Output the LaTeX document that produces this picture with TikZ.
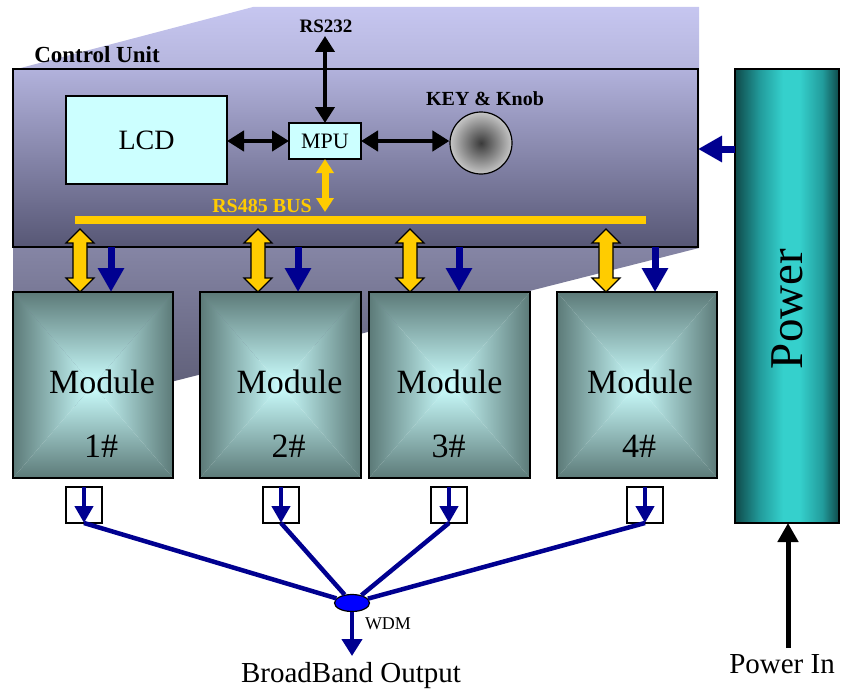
\documentclass[tikz,border=0pt]{standalone}
\usepackage{fontspec}
\setmainfont{Liberation Serif}
\usetikzlibrary{arrows.meta,shapes.geometric,calc}

\definecolor{navy}{HTML}{000090}
\definecolor{busyellow}{HTML}{FFCC00}
\definecolor{lcdcyan}{HTML}{CCFFFF}
\definecolor{panelTop}{HTML}{C6C6F0}
\definecolor{panelBot}{HTML}{56566E}
\definecolor{cuTop}{HTML}{B2B2DC}
\definecolor{cuBot}{HTML}{575775}
\definecolor{modDark}{HTML}{5C7A78}
\definecolor{modLight}{HTML}{CCFFFF}
\definecolor{pwDark}{HTML}{0F4A4A}
\definecolor{pwMid}{HTML}{229C9C}
\definecolor{pwLight}{HTML}{35D0CC}
\definecolor{knobDark}{HTML}{3A3A3A}
\definecolor{knobLight}{HTML}{C6C6C6}

% cylinder-like horizontal shading for the power supply
\pgfdeclarehorizontalshading{cylinder}{100bp}{color(0bp)=(pwDark); color(25bp)=(pwDark); color(37bp)=(pwMid); color(48bp)=(pwLight); color(56bp)=(pwLight); color(67bp)=(pwMid); color(75bp)=(pwDark); color(100bp)=(pwDark)}

\newcommand\setfs[1]{\fontsize{#1}{#1}\selectfont}

% four-sided "pyramid" fill of a module face: x1 y1 x2 y2
\newcommand\pyramidfill[4]{%
  \pgfmathsetmacro\pcx{(#1+#3)/2}\pgfmathsetmacro\pcy{(#2+#4)/2}%
  \begin{scope}\clip (#1,#2) -- (#3,#2) -- (\pcx,\pcy) -- cycle;
    \shade[top color=modDark, bottom color=modLight] (#1,#2) rectangle (#3,\pcy);\end{scope}
  \begin{scope}\clip (#1,#4) -- (#3,#4) -- (\pcx,\pcy) -- cycle;
    \shade[top color=modLight, bottom color=modDark] (#1,\pcy) rectangle (#3,#4);\end{scope}
  \begin{scope}\clip (#1,#2) -- (#1,#4) -- (\pcx,\pcy) -- cycle;
    \shade[left color=modDark, right color=modLight] (#1,#2) rectangle (\pcx,#4);\end{scope}
  \begin{scope}\clip (#3,#2) -- (#3,#4) -- (\pcx,\pcy) -- cycle;
    \shade[left color=modLight, right color=modDark] (\pcx,#2) rectangle (#3,#4);\end{scope}
}

% outlined yellow double block arrow between two vertically aligned points
\newcommand\busarrow[2]{%
  \draw[ybar] (#1) -- ++(14,14) -- ++(-7,0) -- ($(#2)+(7,-14)$) -- ++(7,0) -- (#2)
    -- ++(-14,-14) -- ++(7,0) -- ($(#1)+(-7,14)$) -- ++(-7,0) -- cycle;}

\tikzset{
  bx/.style={draw=black, line width=1.3pt, inner sep=0pt, outer sep=0pt},
  lbl/.style={inner sep=0pt, outer sep=0pt, anchor=base},
  boldlbl/.style={lbl, font=\bfseries\setfs{#1}},
  ybar/.style={fill=busyellow, draw=black, line width=1.2pt, line join=miter},
  blkarr/.style={line width=4.5pt, draw=black,
    {Triangle[width=20pt,length=17pt]}-{Triangle[width=20pt,length=17pt]}},
  rsarr/.style={line width=4.5pt, draw=black,
    {Triangle[width=19pt,length=16pt]}-{Triangle[width=19pt,length=16pt]}},
  yelarr/.style={line width=7pt, draw=busyellow,
    {Triangle[width=17pt,length=14pt]}-{Triangle[width=17pt,length=14pt]}},
  navarr/.style={line width=7pt, draw=navy, -{Triangle[width=25pt,length=24pt]}},
  navsmall/.style={line width=4.5pt, draw=navy, -{Triangle[width=18pt,length=17pt]}},
  navline/.style={line width=4.5pt, draw=navy},
  navmid/.style={line width=4.5pt, draw=navy, -{Triangle[width=20pt,length=17pt]}},
  pinarr/.style={line width=5pt, draw=black, -{Triangle[width=20pt,length=19pt]}},
}

\begin{document}
\begin{tikzpicture}[x=1pt,y=-1pt]
\useasboundingbox (0,0) rectangle (841,693);

% slanted housing behind the control unit
\shade[top color=panelTop, bottom color=panelBot]
  (13,70) -- (253,7) -- (699,7) -- (699,248) -- (13,422) -- cycle;

% control unit panel
\node[bx, minimum width=685pt, minimum height=178pt, top color=cuTop, bottom color=cuBot]
  (cu) at (355.5,158) {};
\node[boldlbl=23] (cutitle) at (97,63) {Control Unit};

% LCD, MPU and knob
\node[bx, fill=lcdcyan, minimum width=161pt, minimum height=88pt, font=\setfs{28}] (lcd) at (146.5,140) {LCD};
\node[bx, fill=lcdcyan, minimum width=72pt, minimum height=36pt, font=\setfs{22}] (mpu) at (325,141) {MPU};
\node[circle, draw=black, line width=1.2pt, minimum size=62pt, inner sep=0pt,
  inner color=knobDark, outer color=knobLight] (knob) at (481,143) {};
\node[boldlbl=20] (keylbl) at (485,105) {KEY \& Knob};

% RS232 link
\node[boldlbl=19] (rs232) at (326,33) {RS232};
\coordinate (rstop) at (325,36);
\draw[rsarr] (rstop) -- (rstop |- mpu.north);

\draw[blkarr] (lcd.east |- mpu.west) -- (mpu.west);
\draw[blkarr] (mpu.east) -- (mpu.east -| knob.west);

% RS485 bus
\node[fill=busyellow, inner sep=0pt, outer sep=0pt, minimum width=571pt, minimum height=8pt] (bus) at (360.5,220) {};
\node[boldlbl=20, text=busyellow] (buslbl) at (262,212) {RS485 BUS};
\draw[yelarr, shorten >=4pt] (mpu.south) -- (mpu.south |- bus.north);

% power supply
\node[bx, line width=1.5pt, shading=cylinder, minimum width=104pt, minimum height=454pt] (pw) at (787,296) {};
\node[lbl, rotate=90, font=\setfs{47}] (pwtxt) at (802,309) {Power};
\coordinate (pwy) at (0,149);
\draw[navarr] (pw.west |- pwy) -- (cu.east |- pwy);
\node[lbl, font=\setfs{29}] (pin) at (782,673) {Power In};
\coordinate (pintail) at (788,648);
\draw[pinarr] (pintail) -- (pintail |- pw.south);

% WDM combiner
\node[ellipse, draw=black, line width=1.2pt, fill=blue, minimum width=35pt, minimum height=17pt, inner sep=0pt] (wdm) at (352,603) {};
\node[lbl, font=\setfs{18}] (wdmlbl) at (388,629) {WDM};
\node[lbl, font=\setfs{29}] (bbo) at (351,682) {BroadBand Output};
\coordinate (outtip) at (352,656);
\draw[navmid] (wdm.south) -- (outtip);

% modules: left/right edge, yellow x, blue x, text shift, number, output box x
\foreach \xa/\xb/\yx/\bxx/\tof/\n/\ox in {13/173/80/111/9/1/84, 200/361/258/298/9/2/281, 369/530/410/459/0/3/449, 557/717/606/655/3/4/645}{
  \pyramidfill{\xa}{292}{\xb}{478}
  \pgfmathsetmacro\mx{(\xa+\xb)/2}
  \node[bx, line width=1.5pt, minimum width=\xb pt-\xa pt, minimum height=186pt] (m\n) at (\mx,385) {};
  \node[lbl, font=\setfs{34}] (m\n a) at (\mx+\tof,393) {Module};
  \node[lbl, font=\setfs{34}] (m\n b) at (\mx+\tof-1,457) {\n\#};
  \coordinate (ya\n) at (\yx,229);
  \coordinate (yb\n) at (ya\n |- m\n.north);
  \busarrow{ya\n}{yb\n}
  \coordinate (bt\n) at (\bxx,0);
  \draw[navarr] (bt\n |- cu.south) -- (bt\n |- m\n.north);
  \node[bx, line width=1.2pt, fill=white, minimum size=36pt] (o\n) at (\ox,505) {};
  \draw[navsmall] (o\n.north) -- (o\n.south);
  \draw[navline] (o\n.south) -- (wdm);
}
\end{tikzpicture}
\end{document}
